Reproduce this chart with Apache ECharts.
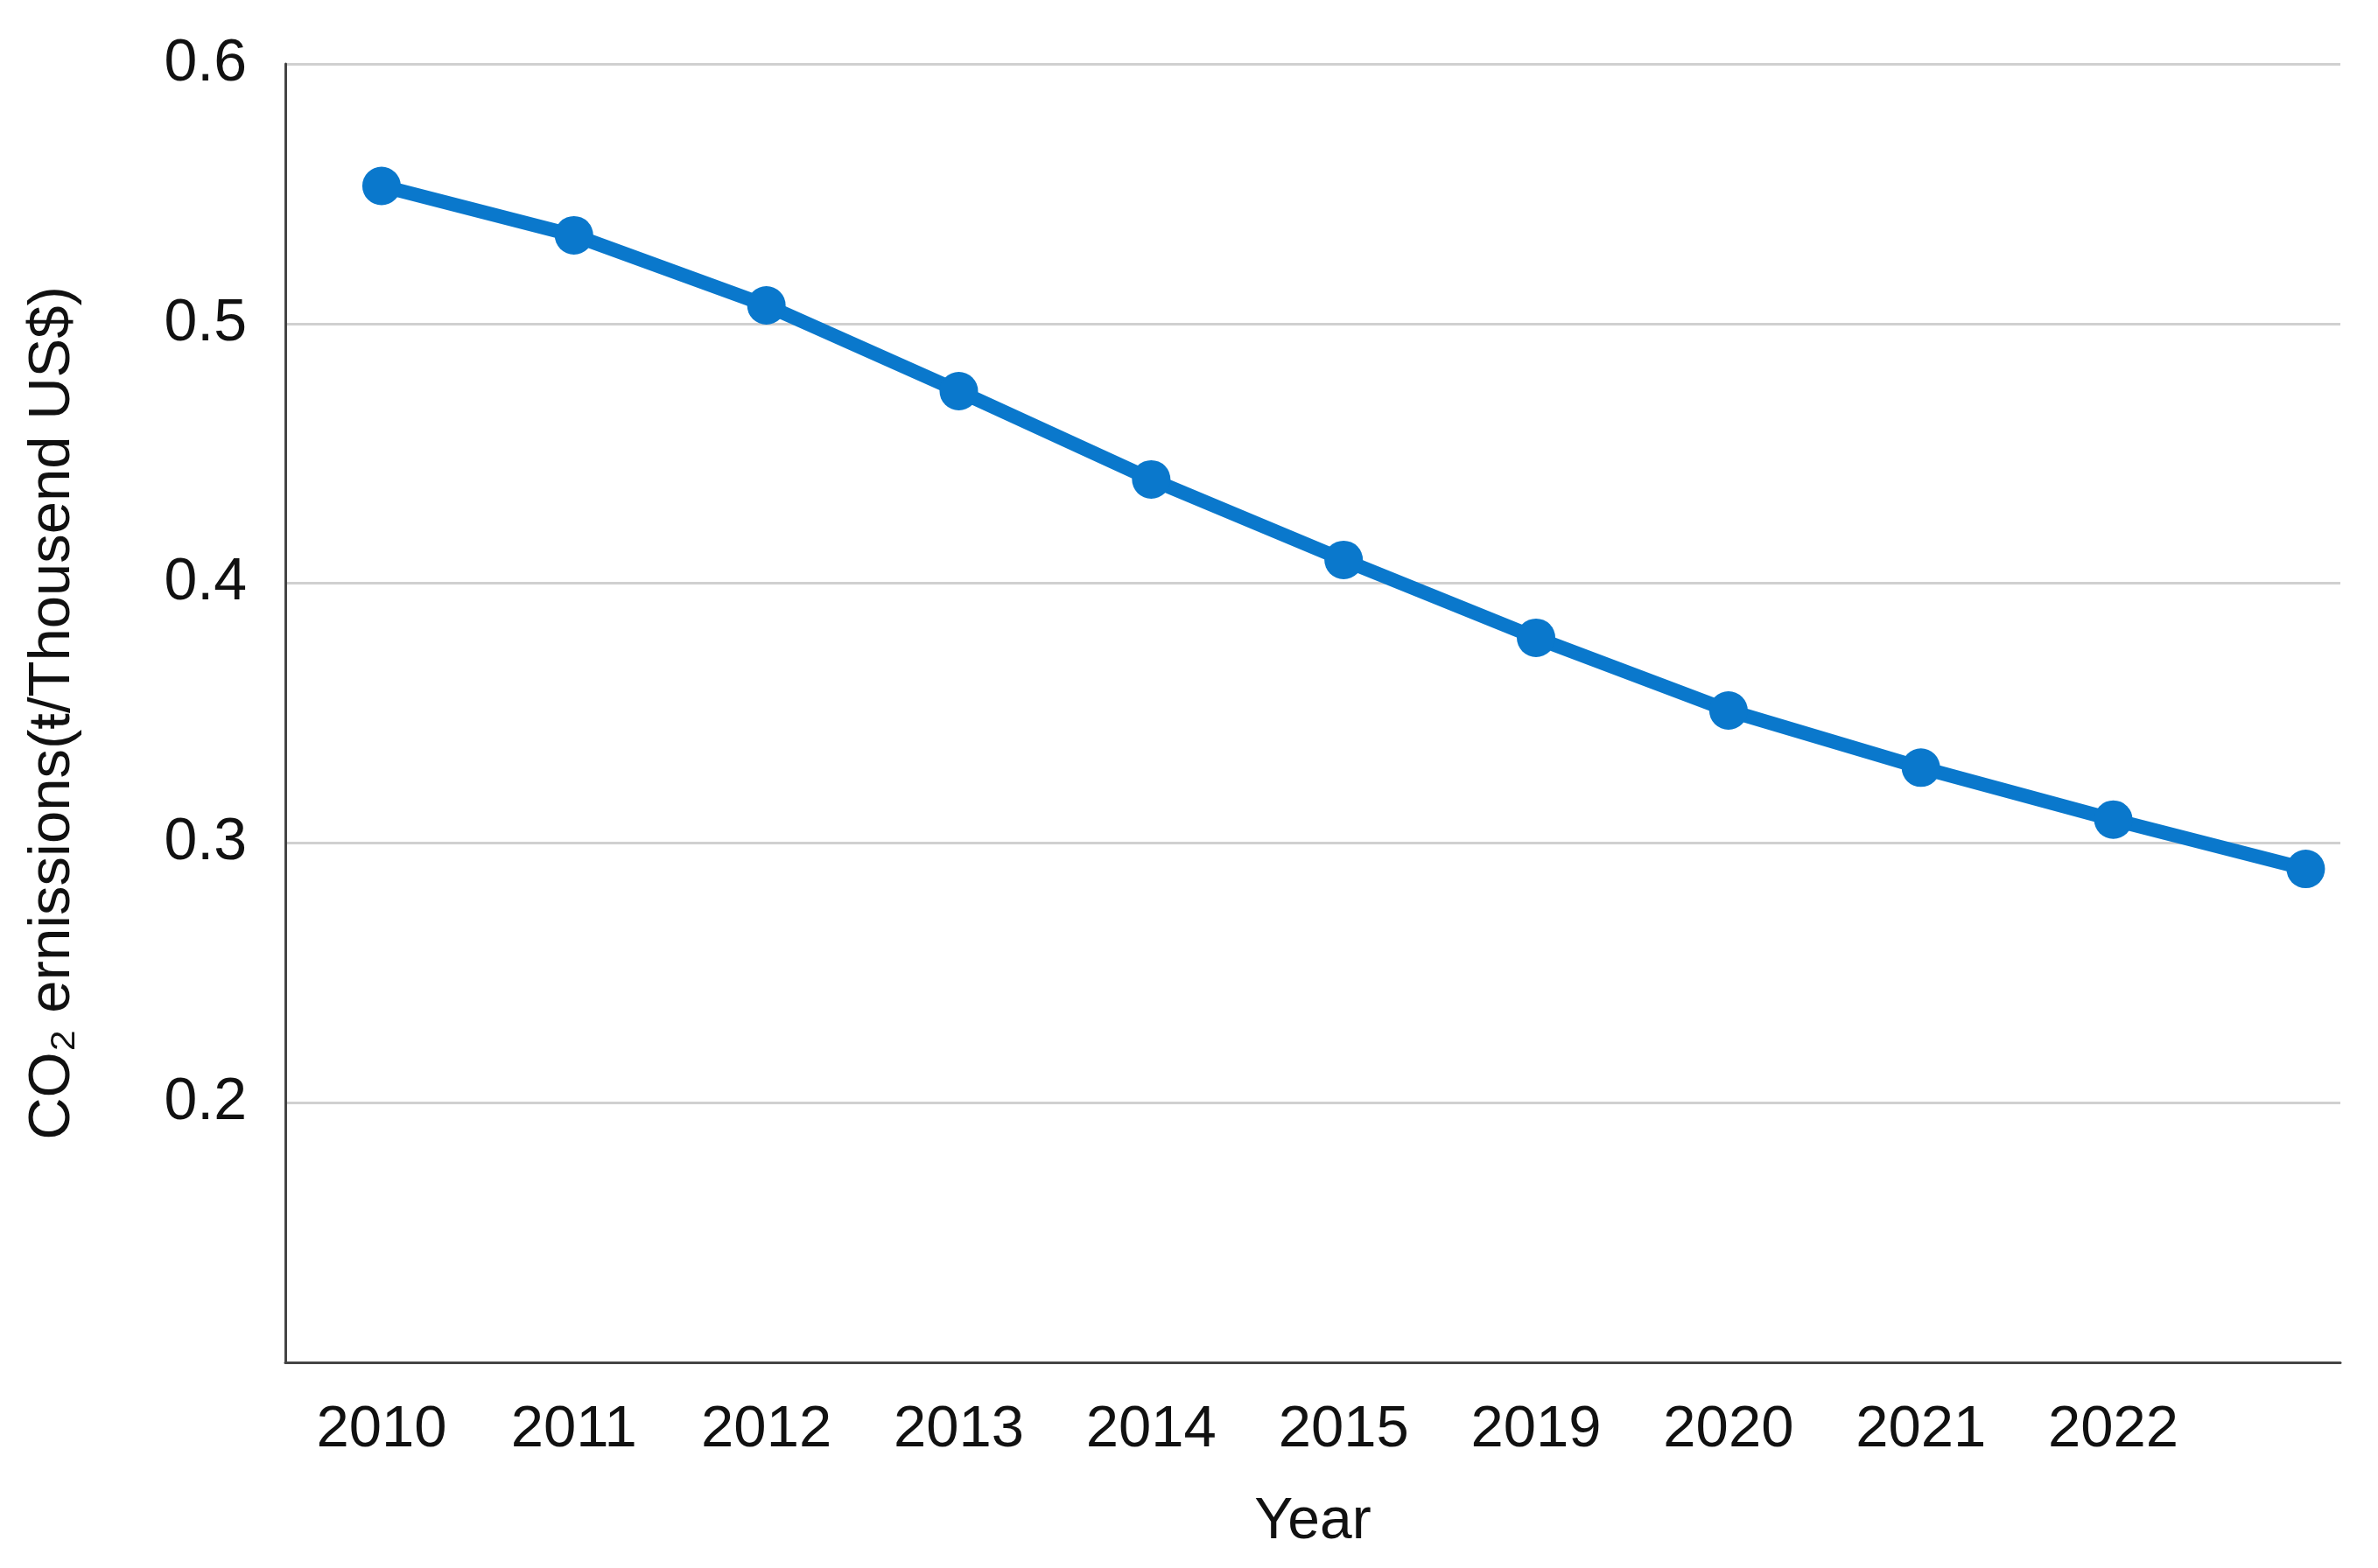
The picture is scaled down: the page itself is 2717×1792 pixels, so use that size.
<!DOCTYPE html>
<html>
<head>
<meta charset="utf-8">
<script src="https://cdn.jsdelivr.net/npm/echarts@6/dist/echarts.min.js"></script>
<style>
html,body{margin:0;padding:0;background:#fff;}
#chart{width:2717px;height:1792px;}
</style>
</head>
<body>
<div id="chart"></div>
<script>
const categories = ['2010','2011','2012','2013','2014','2015','2019','2020','2021','2022',''];
const emissions = [0.553, 0.534, 0.507, 0.474, 0.440, 0.409, 0.379, 0.351, 0.329, 0.309, 0.290];
const yTicks = [0.2, 0.3, 0.4, 0.5, 0.6];
const xName = 'Year';
const yName = 'CO\u2082 ernissions(\u0167/Thousend US$)';

const chart = echarts.init(document.getElementById('chart'), null, {renderer:'canvas'});
const font = 'Liberation Sans';
const labeledIdx = categories.map((c,i)=>c ? i : null).filter(v=>v!==null);

chart.setOption({
  backgroundColor:'#ffffff',
  animation:false,
  grid:{left:326, right:43, top:73, bottom:235, containLabel:false},
  xAxis:{
    type:'value',
    min:-0.5,
    max:10.18,
    name:xName,
    nameLocation:'middle',
    nameGap:150,
    nameTextStyle:{fontFamily:font, fontSize:66, color:'#111'},
    axisLine:{show:true, onZero:false, lineStyle:{color:'#444', width:3}},
    axisTick:{show:false},
    splitLine:{show:false},
    axisLabel:{
      customValues: labeledIdx,
      formatter:(v)=>categories[Math.round(v)] || '',
      fontFamily:font, fontSize:67, color:'#111', margin:44
    }
  },
  yAxis:{
    type:'value',
    min:0.1,
    max:0.6,
    interval:0.1,
    name:yName,
    nameLocation:'middle',
    nameGap:232,
    nameRotate:90,
    nameTextStyle:{fontFamily:font, fontSize:67, color:'#111'},
    axisLine:{show:true, onZero:false, lineStyle:{color:'#444', width:3}},
    axisTick:{show:false},
    splitLine:{show:true, lineStyle:{color:'#d0d0d0', width:3}},
    axisLabel:{
      showMinLabel:false,
      formatter:(v)=> yTicks.some(t=>Math.abs(t-v)<1e-9) ? v.toFixed(1) : '',
      fontFamily:font, fontSize:68, color:'#111', margin:44
    }
  },
  series:[{
    type:'line',
    data: emissions.map((v,i)=>[i,v]),
    symbol:'circle',
    symbolSize:44,
    lineStyle:{color:'#0a78cc', width:16},
    itemStyle:{color:'#0a78cc'},
    z:5
  }]
});
</script>
</body>
</html>
